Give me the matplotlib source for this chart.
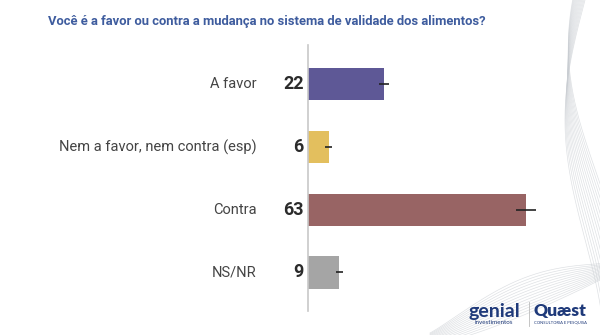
import numpy as np
import matplotlib.pyplot as plt
from matplotlib.lines import Line2D

categories = ["A favor", "Nem a favor, nem contra (esp)", "Contra", "NS/NR"]
values = [22, 6, 63, 9]
errors = [1.5, 1.0, 3.0, 1.0]
colors = ["#5E5896", "#E3BF5E", "#986464", "#A5A5A5"]
title = "Você é a favor ou contra a mudança no sistema de validade dos alimentos?"

W, H = 600, 335
fig = plt.figure(figsize=(W / 100, H / 100), dpi=100)
fig.patch.set_facecolor("white")

# Decorative background waves
bg = fig.add_axes([0, 0, 1, 1], zorder=0)
bg.set_xlim(0, W)
bg.set_ylim(H, 0)
bg.axis("off")
t = np.linspace(0, 1, 200)
for k in range(14):
    s = k / 13
    # lower sweep from bottom-left to right edge
    x = 430 + 180 * t
    y = 345 - 70 * t ** 1.3 - 25 * s * np.sin(np.pi * t) - 12 * s
    bg.plot(x, y, color="#C9CDD2", lw=0.5, alpha=0.6)
    # vertical ribbon on the right
    yy = np.linspace(0, 335, 200)
    xx = 585 + 10 * s - 20 * np.sin(yy / 335 * np.pi * 1.4 + s * 0.8) - 8 * s * np.cos(yy / 90)
    bg.plot(xx, yy, color="#C9CDD2", lw=0.5, alpha=0.6)

# Main bar axes, positioned in pixel terms
left_px, top_px, bottom_px = 308, 45, 311
ax = fig.add_axes([left_px / W, (H - bottom_px) / H, (W - left_px) / W, (bottom_px - top_px) / H], zorder=2)
ax.patch.set_alpha(0)
px_per_unit = 3.46
ax.set_xlim(0, (W - left_px) / px_per_unit)
ax.set_ylim(3.613, -0.621)

y = np.arange(len(categories))
ax.barh(y, values, height=0.51, color=colors, zorder=2)
ax.errorbar(values, y, xerr=errors, fmt="none", ecolor="#222222", elinewidth=1.2, capsize=0, zorder=3)

for yi, (cat, v) in enumerate(zip(categories, values)):
    ax.annotate(str(v), xy=(0, yi), xytext=(-3, 0), textcoords="offset points",
                ha="right", va="center", fontsize=13, fontweight="bold",
                color="#2B2B2B", family="Roboto")
    ax.annotate(cat, xy=(0, yi), xytext=(-37, 0), textcoords="offset points",
                ha="right", va="center", fontsize=10.5, color="#444444",
                family="Roboto")

for sp in ["top", "right", "bottom"]:
    ax.spines[sp].set_visible(False)
ax.spines["left"].set_color("#C8C8C8")
ax.spines["left"].set_linewidth(1.2)
ax.set_xticks([])
ax.set_yticks([])

# Title
fig.text(48 / W, 1 - 22 / H, title, ha="left", va="center", fontsize=9.4,
         fontweight="bold", color="#3E5C9E", family="Roboto")

# Sponsor marks
fig.text(494 / W, 1 - 311 / H, "genial", ha="center", va="center", fontsize=14,
         fontweight="bold", color="#1F3A7A", family="Lato")
fig.text(494 / W, 1 - 323 / H, "investimentos", ha="center", va="center", fontsize=4.5,
         color="#1F3A7A", family="Lato")
fig.add_artist(Line2D([529 / W, 529 / W], [1 - 302 / H, 1 - 326 / H], color="#BBBBBB", lw=0.6))
fig.text(560 / W, 1 - 311 / H, "Quæst", ha="center", va="center", fontsize=12.5,
         fontweight="heavy", color="#1F3A7A", family="Lato")
fig.text(560 / W, 1 - 323 / H, "CONSULTORIA E PESQUISA", ha="center", va="center",
         fontsize=3, color="#1F3A7A", family="Lato")

fig.savefig("out.png", dpi=100, facecolor="white")
